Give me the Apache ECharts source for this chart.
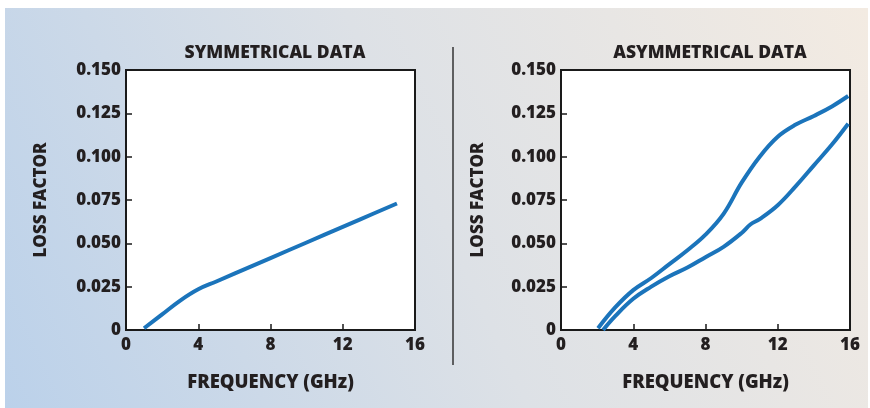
<!DOCTYPE html>
<html>
<head>
<meta charset="utf-8">
<script src="https://cdn.jsdelivr.net/npm/echarts@6/dist/echarts.min.js"></script>
<style>
html,body{margin:0;padding:0;background:#fff;}
#c{width:870px;height:408px;}
</style>
</head>
<body>
<div id="c"></div>
<script>
// ---- data ----
const xTicks = [0, 4, 8, 12, 16];
const yTicks = [0, 0.025, 0.05, 0.075, 0.1, 0.125, 0.15];
const titles = ['SYMMETRICAL DATA', 'ASYMMETRICAL DATA'];
const symFreq = [1, 2, 3, 4, 5, 7, 9, 11, 13, 15];
const symLoss = [0.001, 0.009, 0.017, 0.0235, 0.028, 0.037, 0.046, 0.055, 0.064, 0.073];
const asymUpperFreq = [2.05, 3, 4, 5, 6, 7, 8, 9, 10, 11, 12, 13, 14, 15, 15.9];
const asymUpperLoss = [0.001, 0.013, 0.023, 0.030, 0.038, 0.046, 0.055, 0.067, 0.085, 0.100, 0.1115, 0.1185, 0.1235, 0.129, 0.135];
const asymLowerFreq = [2.33, 3, 4, 5, 6, 7, 8, 9, 10, 10.5, 11, 12, 13, 14, 15, 15.9];
const asymLowerLoss = [0.000, 0.008, 0.018, 0.025, 0.031, 0.036, 0.042, 0.048, 0.056, 0.061, 0.064, 0.072, 0.083, 0.095, 0.107, 0.119];

const pair = (xs, ys) => xs.map((x, i) => [x, ys[i]]);

const FONT = '"Open Sans", sans-serif';
const TXT = '#231f20';
const AX = '#1a1a1a';
const BLUE = '#1b74bb';

function xAxis(gi) {
  return {
    gridIndex: gi, type: 'value', min: xTicks[0], max: xTicks[xTicks.length - 1], interval: 4,
    axisLine: {show: true, lineStyle: {color: AX, width: 2}},
    axisTick: {show: true, inside: true, length: 6, lineStyle: {color: AX, width: 1.5}},
    axisLabel: {color: TXT, fontFamily: FONT, fontWeight: 800, fontSize: 17, margin: 7},
    splitLine: {show: false},
    name: 'FREQUENCY (GHz)', nameLocation: 'middle', nameGap: 43,
    nameTextStyle: {color: TXT, fontFamily: FONT, fontWeight: 800, fontSize: 18.5}
  };
}
function yAxis(gi, gap) {
  return {
    gridIndex: gi, type: 'value', min: yTicks[0], max: yTicks[yTicks.length - 1], interval: 0.025,
    axisLine: {show: true, lineStyle: {color: AX, width: 2}},
    axisTick: {show: true, inside: true, length: 6, lineStyle: {color: AX, width: 1.5}},
    axisLabel: {color: TXT, fontFamily: FONT, fontWeight: 800, fontSize: 17, margin: 5,
      formatter: v => v === 0 ? '0' : v.toFixed(3)},
    splitLine: {show: false},
    name: 'LOSS FACTOR', nameLocation: 'middle', nameGap: gap,
    nameTextStyle: {color: TXT, fontFamily: FONT, fontWeight: 800, fontSize: 17}
  };
}
const lineStyle = {color: BLUE, width: 4};
function series(xi, data) {
  return {type: 'line', xAxisIndex: xi, yAxisIndex: xi, data: data, smooth: 0.4,
    showSymbol: false, lineStyle: lineStyle, silent: true};
}

const chart = echarts.init(document.getElementById('c'), null, {renderer: 'canvas'});
chart.setOption({
  animation: false,
  graphic: [
    {type: 'rect', z: -10, silent: true, shape: {x: 5, y: 8, width: 863, height: 400},
      style: {fill: new echarts.graphic.LinearGradient(0, 1, 1, 0, [
        {offset: 0, color: '#bbd1ea'},
        {offset: 0.5, color: '#dde1e6'},
        {offset: 1, color: '#f3ebe2'}
      ])}},
    {type: 'line', silent: true, shape: {x1: 453, y1: 47, x2: 453, y2: 365},
      style: {stroke: '#333', lineWidth: 1.5}}
  ],
  title: [
    {text: titles[0], left: 270, top: 39, textAlign: 'center',
      textStyle: {color: TXT, fontFamily: FONT, fontWeight: 800, fontSize: 17.5}},
    {text: titles[1], left: 705, top: 39, textAlign: 'center',
      textStyle: {color: TXT, fontFamily: FONT, fontWeight: 800, fontSize: 17.5}}
  ],
  grid: [
    {left: 126, right: 455, top: 70, bottom: 78, show: true, backgroundColor: '#fff', borderColor: AX, borderWidth: 2},
    {left: 561, right: 20, top: 70, bottom: 78, show: true, backgroundColor: '#fff', borderColor: AX, borderWidth: 2}
  ],
  xAxis: [xAxis(0), xAxis(1)],
  yAxis: [yAxis(0, 76), yAxis(1, 74)],
  series: [
    series(0, pair(symFreq, symLoss)),
    series(1, pair(asymUpperFreq, asymUpperLoss)),
    series(1, pair(asymLowerFreq, asymLowerLoss))
  ]
});
</script>
</body>
</html>
